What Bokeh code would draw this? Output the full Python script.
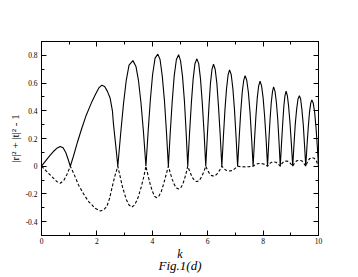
from bokeh.plotting import figure
from bokeh.models import Range1d, LinearAxis, FixedTicker
from bokeh.embed import file_html
from bokeh.resources import INLINE

# ---- data ----
k_solid = [
    0.0, 0.15, 0.30, 0.45, 0.57, 0.675, 0.78, 0.88, 0.96, 1.04,
    1.15, 1.30, 1.455, 1.60, 1.82, 1.95, 2.07, 2.18, 2.28, 2.38, 2.48, 2.56, 2.60, 2.68, 2.755,
    2.86, 2.96, 3.06, 3.16, 3.30, 3.41, 3.50, 3.59, 3.68, 3.77,
    3.85, 3.93, 4.01, 4.10, 4.20, 4.28, 4.36, 4.44, 4.51, 4.58,
    4.65, 4.72, 4.79, 4.87, 4.95, 5.02, 5.09, 5.16, 5.22, 5.28,
    5.345, 5.41, 5.475, 5.54, 5.61, 5.675, 5.74, 5.805, 5.87, 5.93,
    5.99, 6.045, 6.10, 6.155, 6.21, 6.27, 6.33, 6.39, 6.45, 6.51,
    6.567, 6.624, 6.68, 6.737, 6.79, 6.85, 6.909, 6.966, 7.023, 7.08,
    7.135, 7.19, 7.245, 7.30, 7.35, 7.41, 7.47, 7.53, 7.585, 7.64,
    7.69, 7.74, 7.79, 7.84, 7.89, 7.945, 8.00, 8.055, 8.11, 8.16,
    8.205, 8.25, 8.295, 8.34, 8.38, 8.43, 8.48, 8.53, 8.575, 8.62,
    8.665, 8.71, 8.75, 8.79, 8.83, 8.875, 8.92, 8.97, 9.02, 9.07,
    9.115, 9.16, 9.21, 9.26, 9.31, 9.355, 9.40, 9.45, 9.495, 9.54,
    9.585, 9.63, 9.675, 9.72, 9.76, 9.81, 9.86, 9.91, 9.955, 10.0,
]
v_solid = [
    0.0, 0.038, 0.076, 0.11, 0.132, 0.143, 0.133, 0.097, 0.05, 0.0,
    0.07, 0.175, 0.274, 0.36, 0.466, 0.52, 0.565, 0.585, 0.575, 0.54, 0.49, 0.40, 0.30, 0.15, 0.0,
    0.24, 0.45, 0.62, 0.73, 0.762, 0.72, 0.62, 0.46, 0.25, 0.0,
    0.25, 0.48, 0.66, 0.78, 0.809, 0.77, 0.65, 0.47, 0.25, 0.0,
    0.25, 0.47, 0.65, 0.77, 0.805, 0.76, 0.65, 0.47, 0.25, 0.0,
    0.24, 0.455, 0.63, 0.74, 0.775, 0.74, 0.63, 0.455, 0.24, 0.0,
    0.23, 0.43, 0.60, 0.70, 0.736, 0.70, 0.60, 0.43, 0.23, 0.0,
    0.215, 0.41, 0.56, 0.66, 0.695, 0.66, 0.56, 0.41, 0.215, 0.0,
    0.20, 0.385, 0.53, 0.62, 0.654, 0.62, 0.53, 0.385, 0.20, 0.0,
    0.19, 0.36, 0.495, 0.58, 0.613, 0.58, 0.495, 0.36, 0.19, 0.0,
    0.175, 0.335, 0.46, 0.54, 0.573, 0.54, 0.46, 0.335, 0.175, 0.0,
    0.165, 0.315, 0.435, 0.51, 0.541, 0.51, 0.435, 0.315, 0.165, 0.0,
    0.155, 0.30, 0.41, 0.485, 0.508, 0.485, 0.41, 0.30, 0.155, 0.0,
    0.15, 0.28, 0.39, 0.455, 0.479, 0.455, 0.39, 0.28, 0.15, 0.0,
]
k_dashed = [
    0.0, 0.15, 0.37, 0.55, 0.675, 0.80, 0.91, 0.98, 1.04,
    1.18, 1.336, 1.52, 1.70, 1.94, 2.12, 2.25, 2.36, 2.46, 2.54, 2.65, 2.755,
    2.92, 3.06, 3.16, 3.26, 3.36, 3.48, 3.60, 3.70, 3.77,
    3.85, 3.93, 4.01, 4.09, 4.16, 4.24, 4.33, 4.42, 4.50, 4.58,
    4.65, 4.72, 4.80, 4.88, 4.95, 5.02, 5.09, 5.16, 5.22, 5.28,
    5.345, 5.41, 5.475, 5.54, 5.61, 5.675, 5.74, 5.805, 5.87, 5.93,
    6.00, 6.07, 6.14, 6.21, 6.28, 6.35, 6.43, 6.51,
    6.58, 6.65, 6.72, 6.79, 6.86, 6.93, 7.00, 7.08,
    7.22, 7.36, 7.50, 7.64,
    7.72, 7.80, 7.89, 7.98, 8.07, 8.16,
    8.23, 8.30, 8.38, 8.46, 8.54, 8.62,
    8.69, 8.76, 8.83, 8.90, 8.98, 9.07,
    9.14, 9.22, 9.31, 9.39, 9.46, 9.54,
    9.61, 9.68, 9.76, 9.84, 9.92, 10.0,
]
v_dashed = [
    0.0, -0.03, -0.075, -0.11, -0.123, -0.105, -0.063, -0.03, 0.0,
    -0.06, -0.135, -0.20, -0.255, -0.303, -0.323, -0.315, -0.29, -0.23, -0.159, -0.07, 0.0,
    -0.147, -0.24, -0.28, -0.295, -0.28, -0.23, -0.15, -0.07, 0.0,
    -0.07, -0.135, -0.185, -0.218, -0.227, -0.215, -0.18, -0.12, -0.06, 0.0,
    -0.05, -0.095, -0.135, -0.158, -0.164, -0.158, -0.135, -0.095, -0.05, 0.0,
    -0.035, -0.065, -0.09, -0.106, -0.111, -0.106, -0.09, -0.065, -0.035, 0.0,
    -0.03, -0.055, -0.068, -0.07, -0.066, -0.054, -0.03, 0.0,
    -0.016, -0.028, -0.033, -0.034, -0.032, -0.026, -0.014, 0.0,
    -0.004, -0.005, -0.003, 0.0,
    0.012, 0.018, 0.02, 0.018, 0.012, 0.0,
    0.018, 0.028, 0.031, 0.028, 0.018, 0.0,
    0.022, 0.035, 0.038, 0.035, 0.022, 0.0,
    0.025, 0.04, 0.043, 0.04, 0.025, 0.0,
    0.035, 0.055, 0.062, 0.058, 0.04, 0.0,
]

x_ticks = [0, 2, 4, 6, 8, 10]
x_minor = [1, 3, 5, 7, 9]
y_ticks = [-0.4, -0.2, 0, 0.2, 0.4, 0.6, 0.8]
y_tick_labels = ["-0.4", "-0.2", "0", "0.2", "0.4", "0.6", "0.8"]
y_minor = [-0.5, -0.3, -0.1, 0.1, 0.3, 0.5, 0.7, 0.9]

SERIF = "Liberation Serif"

p = figure(width=358, height=277, output_backend="svg", toolbar_location=None,
           x_range=Range1d(0, 10), y_range=Range1d(-0.5, 0.9),
           min_border_left=41, min_border_right=40, min_border_top=41,
           min_border_bottom=42)
p.grid.visible = False
p.outline_line_color = "black"
p.background_fill_color = "white"
p.border_fill_color = "white"

p.line(k_solid, v_solid, line_color="black", line_width=1.1)
p.line(k_dashed, v_dashed, line_color="black", line_width=1.1, line_dash="3 2")

xt = FixedTicker(ticks=x_ticks, minor_ticks=x_minor)
yt = FixedTicker(ticks=y_ticks, minor_ticks=y_minor)

def style(ax, labels=True):
    ax.axis_line_color = "black"
    ax.major_tick_in = 5
    ax.major_tick_out = 0
    ax.minor_tick_in = 3
    ax.minor_tick_out = 0
    ax.major_tick_line_color = "black"
    ax.minor_tick_line_color = "black"
    ax.major_label_text_font = SERIF
    ax.major_label_text_font_size = "7.5px"
    ax.major_label_text_color = "black" if labels else None
    ax.major_label_standoff = 2
    ax.axis_label_text_color = "black"
    ax.axis_label_text_font = SERIF

p.xaxis.ticker = xt
p.yaxis.ticker = yt
style(p.xaxis[0])
style(p.yaxis[0])
p.yaxis.major_label_overrides = dict(zip(y_ticks, y_tick_labels))
p.yaxis.major_label_standoff = 4

p.xaxis.axis_label = "k"
p.xaxis.axis_label_text_font_style = "italic"
p.xaxis.axis_label_text_font_size = "12px"
p.xaxis.axis_label_standoff = 0

p.yaxis.axis_label = "|r|² + |t|² - 1"
p.yaxis.axis_label_text_font_style = "normal"
p.yaxis.axis_label_text_font_size = "11px"
p.yaxis.axis_label_standoff = 2

top = LinearAxis(ticker=xt)
style(top, labels=False)
p.add_layout(top, "above")
right = LinearAxis(ticker=yt)
style(right, labels=False)
p.add_layout(right, "right")

# caption below the x axis label
cap = LinearAxis(ticker=FixedTicker(ticks=[]), axis_line_color=None,
                 major_tick_line_color=None, minor_tick_line_color=None,
                 major_label_standoff=0, axis_label="Fig.1(d)",
                 axis_label_standoff=-6, axis_label_text_font=SERIF,
                 axis_label_text_font_style="italic",
                 axis_label_text_font_size="13px",
                 axis_label_text_color="black")
p.add_layout(cap, "below")

open("out.html", "w").write(file_html(p, INLINE))
